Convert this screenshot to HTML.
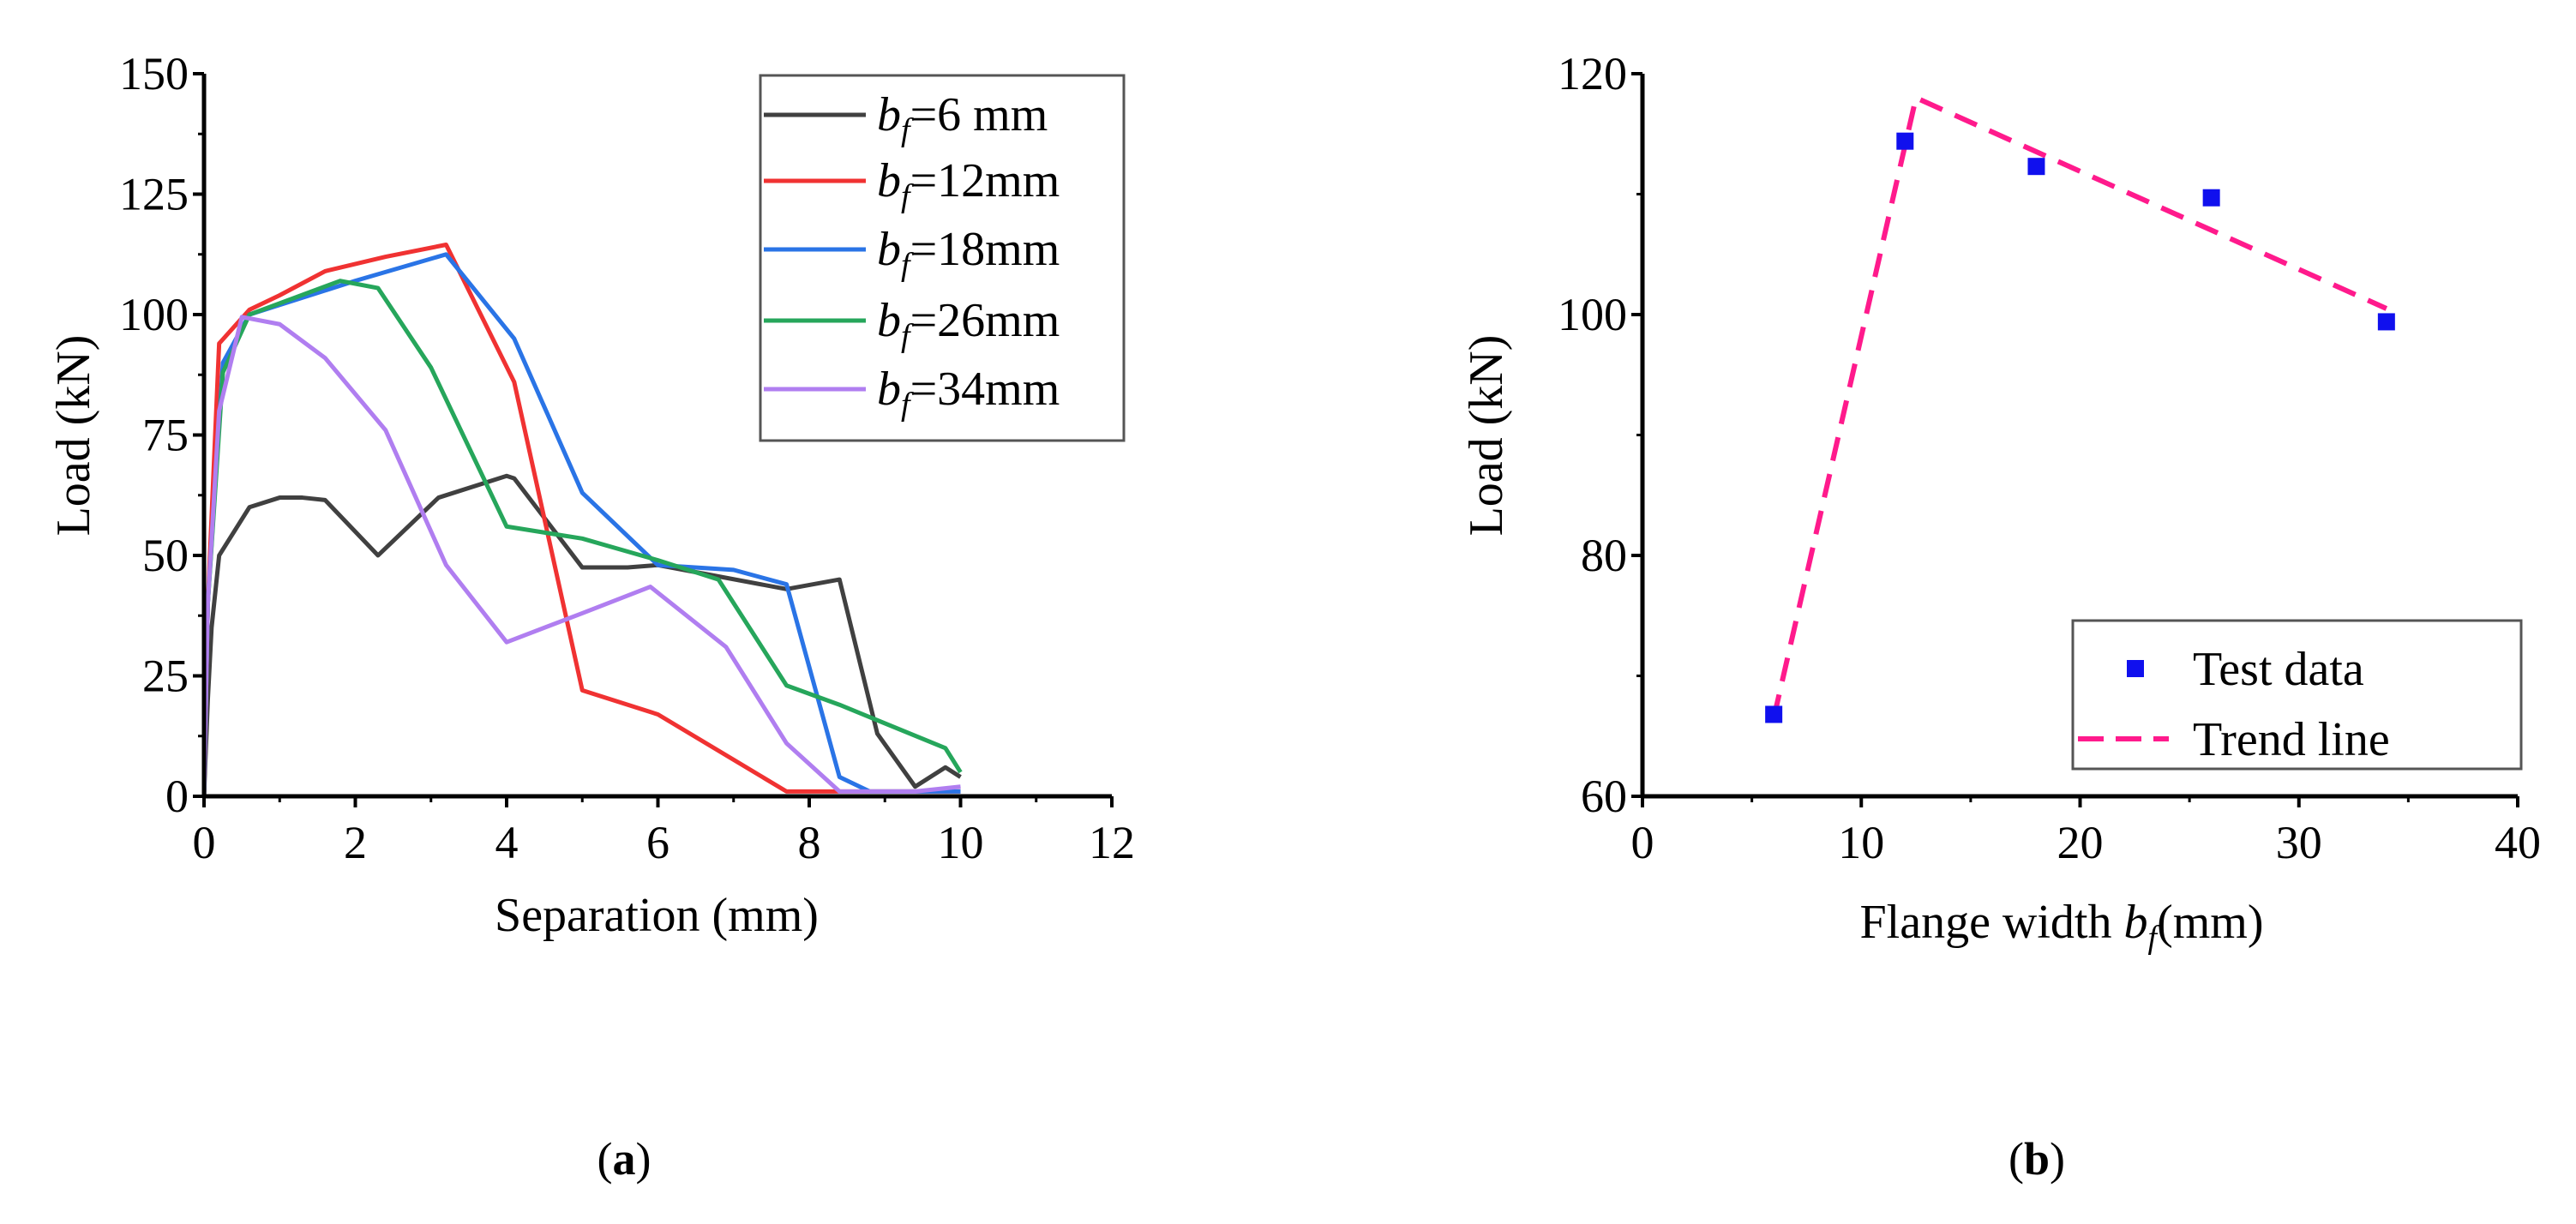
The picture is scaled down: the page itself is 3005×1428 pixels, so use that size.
<!DOCTYPE html>
<html><head><meta charset="utf-8"><style>
body{margin:0;background:#fff;}
svg{display:block;font-family:"Liberation Serif",serif;}
</style></head><body>
<svg id="s" width="3005" height="1428" viewBox="0 0 3005 1428" xmlns="http://www.w3.org/2000/svg">
<g id="ga"></g>
<g id="gb"></g>
<text x="728" y="1370" font-size="54" text-anchor="middle">(<tspan font-weight="bold">a</tspan>)</text>
<text x="2376" y="1370" font-size="54" text-anchor="middle">(<tspan font-weight="bold">b</tspan>)</text>
</svg>
<script>
const aXTicks=[0,2,4,6,8,10,12];
const aYTicks=[0,25,50,75,100,125,150];
const aSeriesNames=["6 mm","12mm","18mm","26mm","34mm"];
const aSeriesColors=["#404040","#f03232","#2a74e6","#26a65b","#b07ef0"];
const s6x=[0,0.05,0.1,0.2,0.6,1.0,1.3,1.6,2.3,3.1,4.0,4.1,5.0,5.6,6.0,7.7,8.4,8.9,9.4,9.8,10];
const s6y=[0,20,35,50,60,62,62,61.5,50,62,66.5,66,47.5,47.5,48,43,45,13,2,6,4];
const s12x=[0,0.05,0.2,0.6,1.0,1.6,2.4,3.2,4.1,5.0,6.0,7.7,8.4,10];
const s12y=[0,40,94,101,104,109,112,114.5,86,22,17,1,1,1];
const s18x=[0,0.05,0.25,0.6,2.0,3.2,4.1,5.0,6.0,7.0,7.7,8.4,8.8,10];
const s18y=[0,40,90,100,107,112.5,95,63,48,47,44,4,1,1];
const s26x=[0,0.05,0.25,0.6,1.8,2.3,3.0,4.0,5.0,6.0,6.8,7.7,8.4,9.8,10];
const s26y=[0,40,88,100,107,105.5,89,56,53.5,49,45,23,19,10,5];
const s34x=[0,0.05,0.2,0.5,1.0,1.6,2.4,3.2,4.0,5.0,5.9,6.9,7.7,8.4,9.4,10];
const s34y=[0,40,80,99.5,98,91,76,48,32,38,43.5,31,11,1,1,2];
const bXTicks=[0,10,20,30,40];
const bYTicks=[60,80,100,120];
const bPointX=[6,12,18,26,34];
const bPointY=[66.8,114.4,112.3,109.7,99.4];
const trendX=[6,12.5,34];
const trendY=[66.5,118,100.5];

const NS="http://www.w3.org/2000/svg";
function mk(parent,tag,attrs){const e=document.createElementNS(NS,tag);for(const k in attrs)e.setAttribute(k,attrs[k]);parent.appendChild(e);return e;}

const ga=document.getElementById('ga');
const ax=v=>238+(v-0)/12*(1297-238);
const ay=v=>929-(v-0)/150*(929-86);
const sx=[s6x,s12x,s18x,s26x,s34x], sy=[s6y,s12y,s18y,s26y,s34y];
for(let i=0;i<5;i++){
  const p=mk(ga,'polyline',{points:sx[i].map((x,j)=>ax(x)+','+ay(sy[i][j])).join(' '),fill:'none',stroke:aSeriesColors[i],'stroke-width':5,'stroke-linejoin':'round'});
  
  
}
function axes(g,X,Y,x0,x1,y0,y1,xt,yt,xmin,ymin,pref){
  const a1=mk(g,'line',{x1:x0,y1:y1,x2:x0,y2:y0+2,stroke:'#000','stroke-width':5});
  
  
  const a2=mk(g,'line',{x1:x0-2,y1:y0,x2:x1,y2:y0,stroke:'#000','stroke-width':5});
  
  
  xt.forEach(v=>{mk(g,'line',{x1:X(v),y1:y0,x2:X(v),y2:y0+13,stroke:'#000','stroke-width':4});
    const t=mk(g,'text',{x:X(v),y:y0+72,'font-size':54,'text-anchor':'middle'});t.textContent=v;
    
    });
  xmin.forEach(v=>mk(g,'line',{x1:X(v),y1:y0,x2:X(v),y2:y0+7,stroke:'#000','stroke-width':3}));
  yt.forEach(v=>{mk(g,'line',{x1:x0-13,y1:Y(v),x2:x0,y2:Y(v),stroke:'#000','stroke-width':4});
    const t=mk(g,'text',{x:x0-18,y:Y(v)+18,'font-size':54,'text-anchor':'end'});t.textContent=v;
    
    });
  ymin.forEach(v=>mk(g,'line',{x1:x0-7,y1:Y(v),x2:x0,y2:Y(v),stroke:'#000','stroke-width':3}));
}
axes(ga,ax,ay,238,1297,929,86,aXTicks,aYTicks,[1,3,5,7,9,11],[12.5,37.5,62.5,87.5,112.5,137.5],'a-');
let t=mk(ga,'text',{x:766,y:1086,'font-size':56,'text-anchor':'middle'});t.textContent='Separation (mm)';

t=mk(ga,'text',{x:0,y:0,'font-size':56,'text-anchor':'middle',transform:'translate(104,508) rotate(-90)'});t.textContent='Load (kN)';

const la=mk(ga,'rect',{x:887,y:88,width:424,height:426,fill:'#fff',stroke:'#555','stroke-width':3});

const ly=[134,211,291,374,454];
for(let i=0;i<5;i++){
  mk(ga,'line',{x1:891,y1:ly[i],x2:1010,y2:ly[i],stroke:aSeriesColors[i],'stroke-width':5});
  const tt=mk(ga,'text',{x:1023,y:ly[i]+18,'font-size':56});
  tt.innerHTML='<tspan font-style="italic">b</tspan><tspan font-style="italic" font-size="38" dy="12">f</tspan><tspan dy="-12">='+aSeriesNames[i]+'</tspan>';
  
  
}

const gb=document.getElementById('gb');
const bx=v=>1916+v/40*(2937-1916);
const by=v=>929-(v-60)/60*(929-86);
axes(gb,bx,by,1916,2937,929,86,bXTicks,bYTicks,[5,15,25,35],[70,90,110],'b-');
const tr=mk(gb,'polyline',{points:trendX.map((x,j)=>bx(x)+','+by(trendY[j])).join(' '),fill:'none',stroke:'#ff1a8c','stroke-width':6,'stroke-dasharray':'28 16'});

bPointX.forEach((x,j)=>{const r=mk(gb,'rect',{x:bx(x)-10,y:by(bPointY[j])-10,width:20,height:20,fill:'#1010ee'});
  });
t=mk(gb,'text',{x:2405,y:1094,'font-size':56,'text-anchor':'middle'});
t.innerHTML='Flange width <tspan font-style="italic">b</tspan><tspan font-style="italic" font-size="38" dy="12">f</tspan><tspan dy="-12">(mm)</tspan>';

t=mk(gb,'text',{x:0,y:0,'font-size':56,'text-anchor':'middle',transform:'translate(1752,508) rotate(-90)'});t.textContent='Load (kN)';

const lb=mk(gb,'rect',{x:2418,y:724,width:523,height:173,fill:'#fff',stroke:'#555','stroke-width':3});

mk(gb,'rect',{x:2481,y:770,width:20,height:20,fill:'#1010ee'});
t=mk(gb,'text',{x:2558,y:799,'font-size':56});t.textContent='Test data';

mk(gb,'line',{x1:2424,y1:862,x2:2530,y2:862,stroke:'#ff1a8c','stroke-width':6,'stroke-dasharray':'30 14'});
t=mk(gb,'text',{x:2558,y:881,'font-size':56});t.textContent='Trend line';

</script>
</body></html>
